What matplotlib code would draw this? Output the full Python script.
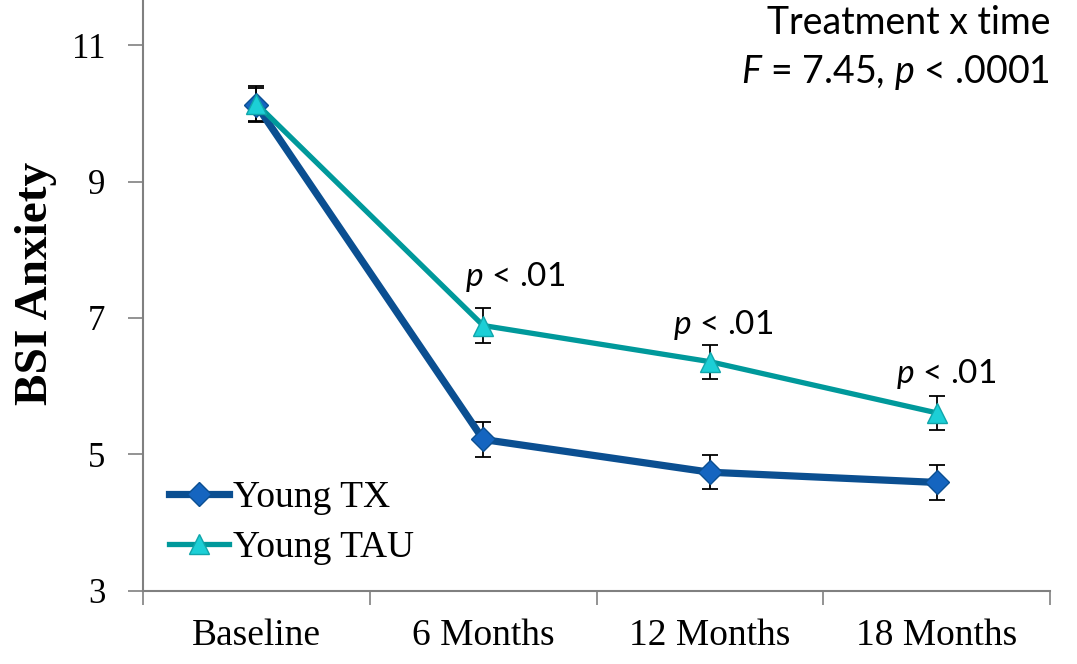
import matplotlib.pyplot as plt
import numpy as np

plt.rcParams['mathtext.fontset'] = 'custom'
plt.rcParams['mathtext.rm'] = 'Lato'
plt.rcParams['mathtext.it'] = 'Lato:italic'

timepoints = ['Baseline', '6 Months', '12 Months', '18 Months']
young_tx = [10.12, 5.22, 4.74, 4.59]
young_tx_err = [0.25, 0.25, 0.25, 0.25]
young_tau = [10.14, 6.89, 6.36, 5.61]
young_tau_err = [0.26, 0.25, 0.25, 0.25]
sig_labels = ['', '$p$ < .01', '$p$ < .01', '$p$ < .01']
sig_y = [None, 7.6, 6.9, 6.18]
sig_dx = [0, 0.14, 0.06, 0.04]

x = np.arange(len(timepoints))

fig = plt.figure(figsize=(10.77, 6.64), dpi=100)
ax = fig.add_axes([0.1328, 0.110, 0.975 - 0.1328, 0.890])

ax.errorbar(x, young_tx, yerr=young_tx_err, fmt='none', ecolor='black',
            elinewidth=1.3, capsize=6, capthick=1.3, zorder=2)
ax.errorbar(x, young_tau, yerr=young_tau_err, fmt='none', ecolor='black',
            elinewidth=1.3, capsize=6, capthick=1.3, zorder=2)
ax.plot(x, young_tx, color='#0b4f91', lw=5.2, marker='D', markersize=12,
        markerfacecolor='#1565c0', markeredgecolor='#0b4f91', markeredgewidth=1,
        label='Young TX', zorder=3)
ax.plot(x, young_tau, color='#00999b', lw=3.8, marker='^', markersize=15,
        markerfacecolor='#1ccfd6', markeredgecolor='#10a5aa', markeredgewidth=1,
        label='Young TAU', zorder=4)

for xi, lab, yi, dx in zip(x, sig_labels, sig_y, sig_dx):
    if lab:
        ax.text(xi + dx, yi, lab, fontsize=24, family='Lato', ha='center', va='center')

ax.text(3.5, 11.32, 'Treatment x time', fontsize=27, family='Lato', ha='right', va='center')
ax.text(3.5, 10.6, '$F$ = 7.45, $p$ < .0001', fontsize=27, family='Lato', ha='right', va='center')

ax.set_xlim(-0.5, 3.5)
ax.set_ylim(3, 11.66)
ax.set_yticks([3, 5, 7, 9, 11])
ax.set_yticklabels(['3', '5', '7', '9', '11'], family='Liberation Serif', fontsize=25)
ax.set_xticks(np.arange(-0.5, 4, 1))
ax.set_xticklabels([])
ax.set_xticks(x, minor=True)
ax.set_xticklabels(timepoints, minor=True, family='Liberation Serif', fontsize=27)
ax.tick_params(axis='x', which='major', length=10, width=1.2, color='#808080')
ax.tick_params(axis='x', which='minor', length=0, pad=20)
ax.tick_params(axis='y', length=11, width=1.2, color='#808080', pad=16)

for s in ['top', 'right']:
    ax.spines[s].set_visible(False)
for s in ['left', 'bottom']:
    ax.spines[s].set_color('#808080')
    ax.spines[s].set_linewidth(1.5)

ax.set_ylabel('BSI Anxiety', family='Liberation Serif', fontweight='bold', fontsize=34, labelpad=10)
ax.yaxis.set_label_coords(-0.095, 0.52)

ax.legend(loc='lower left', bbox_to_anchor=(0.0, 0.0), frameon=False,
          prop={'family': 'Liberation Serif', 'size': 27}, handlelength=1.6,
          handletextpad=0.1, labelspacing=0.4, borderaxespad=0.3)

fig.savefig('out.png', dpi=100)
